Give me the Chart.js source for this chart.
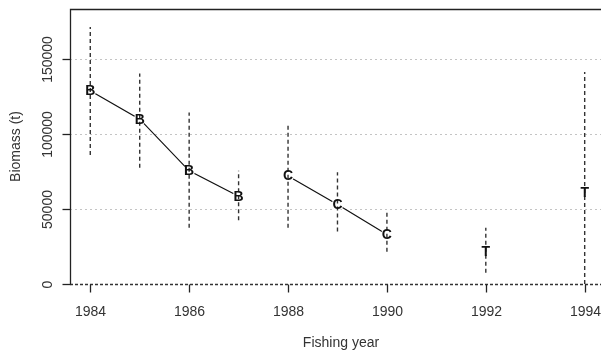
<!DOCTYPE html>
<html>
<head>
<meta charset="utf-8">
<title>Biomass by fishing year</title>
<script src="https://cdn.jsdelivr.net/npm/chart.js@4/dist/chart.umd.min.js"></script>
<style>
  html, body { margin: 0; padding: 0; background: #ffffff; }
  #wrap { width: 607px; height: 354px; }
</style>
</head>
<body>
<div id="wrap"><canvas id="c" width="607" height="354"></canvas></div>
<script>
// Biomass estimates (t) with interval bounds, by fishing year
const years    = [1984, 1985, 1986, 1987, 1988, 1989, 1990, 1992, 1994];
const letters  = ['B', 'B', 'B', 'B', 'C', 'C', 'C', 'T', 'T'];
const estimate = [129000, 110000, 75500, 58500, 72000, 53000, 33000, 21500, 61000];
const lower    = [86000, 77500, 37500, 42500, 37500, 35000, 21500, 7500, 0];
const upper    = [171500, 140500, 114500, 75500, 107000, 74500, 47500, 37500, 141500];

// Runs joined by a line (index ranges into the arrays above)
const lineGroups = [[0, 3], [4, 6]];

const xTicks = [1984, 1986, 1988, 1990, 1992, 1994];
const yTicks = [0, 50000, 100000, 150000];
const yGrid  = [50000, 100000, 150000];

const FONT = '"Liberation Sans", Arial, sans-serif';
const TEXT = '#333333';

const datasets = [];

// Vertical dashed interval bars (listed first so they sit on top)
years.forEach((yr, i) => {
  datasets.push({
    type: 'line',
    data: [{ x: yr, y: lower[i] }, { x: yr, y: upper[i] }],
    borderColor: '#333333',
    borderWidth: 1.4,
    borderDash: [4, 3],
    pointRadius: 0,
    fill: false
  });
});

// Connecting lines; white point discs leave a small gap around each letter
lineGroups.forEach(([a, b]) => {
  const pts = [];
  for (let i = a; i <= b; i++) pts.push({ x: years[i], y: estimate[i] });
  datasets.push({
    type: 'line',
    data: pts,
    borderColor: '#111111',
    borderWidth: 1.2,
    pointRadius: 6,
    pointBorderWidth: 0,
    pointBackgroundColor: '#ffffff',
    pointHoverRadius: 6,
    fill: false,
    tension: 0
  });
});

// Invisible carrier for the letter symbols
const letterSet = datasets.length;
datasets.push({
  type: 'scatter',
  data: years.map((yr, i) => ({ x: yr, y: estimate[i] })),
  pointRadius: 0,
  showLine: false
});

const frame = {
  id: 'frame',
  beforeDatasetsDraw(chart) {
    const { ctx, chartArea: ca, scales: { y } } = chart;
    ctx.save();
    // dotted horizontal grid
    ctx.strokeStyle = '#c4c4c4';
    ctx.lineWidth = 1;
    ctx.setLineDash([2, 3]);
    yGrid.forEach(v => {
      const py = Math.round(y.getPixelForValue(v)) + 0.5;
      ctx.beginPath(); ctx.moveTo(ca.left, py); ctx.lineTo(ca.right, py); ctx.stroke();
    });
    // dashed zero line
    const y0 = Math.round(y.getPixelForValue(0)) + 0.5;
    ctx.strokeStyle = '#333333';
    ctx.lineWidth = 1.3;
    ctx.setLineDash([3, 2]);
    ctx.beginPath(); ctx.moveTo(ca.left, y0); ctx.lineTo(ca.right, y0); ctx.stroke();
    ctx.restore();
  },
  afterDatasetsDraw(chart) {
    const { ctx, chartArea: ca, scales: { x, y } } = chart;
    ctx.save();
    // letter symbols at each estimate
    const meta = chart.getDatasetMeta(letterSet);
    ctx.fillStyle = '#111111';
    ctx.font = 'bold 14px ' + FONT;
    ctx.textAlign = 'center';
    ctx.textBaseline = 'middle';
    meta.data.forEach((pt, i) => {
      ctx.fillText(letters[i], pt.x, pt.y + 0.5);
    });

    // left axis and top border
    ctx.strokeStyle = '#222222';
    ctx.lineWidth = 1.3;
    ctx.setLineDash([]);
    const left = Math.round(ca.left) + 0.5;
    const top = Math.round(ca.top) + 0.5;
    const bottom = Math.round(y.getPixelForValue(0)) + 0.5;
    ctx.beginPath();
    ctx.moveTo(left, bottom);
    ctx.lineTo(left, top);
    ctx.lineTo(ca.right, top);
    ctx.stroke();

    // y ticks and rotated labels
    ctx.fillStyle = TEXT;
    ctx.font = '14px ' + FONT;
    yTicks.forEach(v => {
      const py = Math.round(y.getPixelForValue(v)) + 0.5;
      ctx.beginPath(); ctx.moveTo(left - 8, py); ctx.lineTo(left, py); ctx.stroke();
      ctx.save();
      ctx.translate(48, py);
      ctx.rotate(-Math.PI / 2);
      ctx.textAlign = 'center';
      ctx.textBaseline = 'middle';
      ctx.fillText(String(v), 0, 0);
      ctx.restore();
    });

    // x ticks and labels
    xTicks.forEach(v => {
      const px = Math.round(x.getPixelForValue(v)) + 0.5;
      ctx.beginPath(); ctx.moveTo(px, bottom); ctx.lineTo(px, bottom + 8); ctx.stroke();
      ctx.textAlign = 'center';
      ctx.textBaseline = 'middle';
      ctx.fillText(String(v), px, 312);
    });

    // axis titles
    ctx.textAlign = 'center';
    ctx.textBaseline = 'middle';
    ctx.fillText('Fishing year', 341, 343);
    ctx.save();
    ctx.translate(16, (ca.top + ca.bottom) / 2);
    ctx.rotate(-Math.PI / 2);
    ctx.fillText('Biomass (t)', 0, 0);
    ctx.restore();
    ctx.restore();
  }
};

new Chart(document.getElementById('c'), {
  type: 'scatter',
  data: { datasets },
  options: {
    responsive: false,
    devicePixelRatio: 1,
    animation: false,
    layout: { padding: { left: 70, top: 9, right: 0, bottom: 70 } },
    plugins: { legend: { display: false }, tooltip: { enabled: false } },
    events: [],
    scales: {
      x: { type: 'linear', min: 1983.59, max: 1994.33, display: false },
      y: { type: 'linear', min: 0, max: 183500, display: false }
    }
  },
  plugins: [frame]
});
</script>
</body>
</html>
